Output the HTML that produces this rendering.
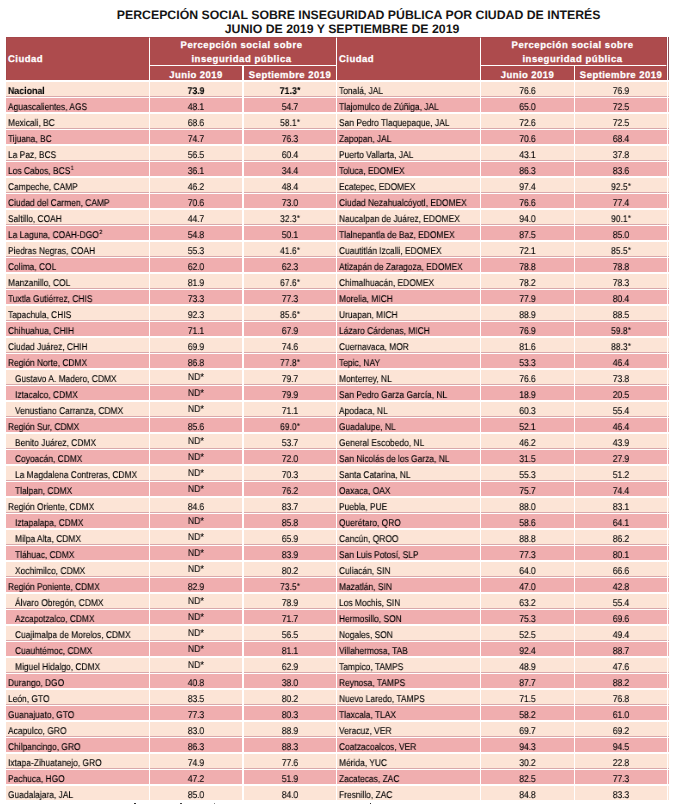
<!DOCTYPE html><html><head><meta charset="utf-8"><style>
*{margin:0;padding:0;box-sizing:border-box}
html,body{width:677px;height:804px;overflow:hidden;background:#fff}
body{position:relative;text-rendering:geometricPrecision;font-family:"Liberation Sans",sans-serif;color:#000}
.a{position:absolute}
.t{position:absolute;white-space:nowrap;font-weight:bold;font-size:12.3px;line-height:14px;color:#151515}
.h{position:absolute;background:#ad4b4d}
.ht{position:absolute;white-space:nowrap;color:#fff;font-weight:bold;font-size:9.5px;letter-spacing:0.45px;line-height:12px;-webkit-text-stroke:0.25px #fff}
.r{position:absolute;height:14px}
.l{background:#fce4d6}.p{background:#f0aeaf}.m{position:absolute;height:1px;background:#d9a9ab}
.x{position:absolute;white-space:nowrap;font-size:9.8px;line-height:14px;will-change:transform;-webkit-text-stroke:0.12px #000}
.xl{transform:scaleX(0.86);transform-origin:0 0}
.xc{transform:scaleX(0.86);transform-origin:50% 0;text-align:center}
sup{font-size:90%;vertical-align:0;position:relative;top:-0.08em;line-height:0;margin-left:0.3px}
.nd{font-size:100%;top:-0.05em}
sup.n{font-size:62%;top:-0.6em;margin-left:0.6px}
.xl.b,.xc.b{transform:scaleX(0.9)}
.b{font-weight:bold;-webkit-text-stroke:0.1px #000}

</style></head><body>
<div class="t" style="left:116.8px;top:7.638049999999998px">PERCEPCIÓN SOCIAL SOBRE INSEGURIDAD PÚBLICA POR CIUDAD DE INTERÉS</div>
<div class="t" style="left:224.7px;top:22.038049999999995px">JUNIO DE 2019 Y SEPTIEMBRE DE 2019</div>
<div class="h" style="left:6px;top:37px;width:143px;height:43px"></div>
<div class="h" style="left:150px;top:37px;width:186px;height:28px"></div>
<div class="h" style="left:150px;top:66px;width:92px;height:14px"></div>
<div class="h" style="left:244px;top:66px;width:92px;height:14px"></div>
<div class="h" style="left:337px;top:37px;width:143px;height:43px"></div>
<div class="h" style="left:481px;top:37px;width:186px;height:28px"></div>
<div class="h" style="left:481px;top:66px;width:93px;height:14px"></div>
<div class="h" style="left:575px;top:66px;width:92px;height:14px"></div>
<div class="a" style="left:668px;top:37px;width:1px;height:43px;background:#8c5159"></div>
<div class="a" style="left:6px;top:37px;width:661px;height:1px;background:#a04549;opacity:.6"></div>
<div class="a" style="left:6px;top:37px;width:1px;height:43px;background:#a04549;opacity:.6"></div>
<div class="a" style="left:666px;top:37px;width:1px;height:43px;background:#9a4349;opacity:.7"></div>
<div class="ht" style="left:8px;top:53.51px">Ciudad</div>
<div class="ht" style="left:148.5px;width:186.0px;top:39.61px;text-align:center;letter-spacing:0.55px">Percepción social sobre</div>
<div class="ht" style="left:148.5px;width:186.0px;top:54.11px;text-align:center;letter-spacing:0.55px">inseguridad pública</div>
<div class="ht" style="left:150px;width:92px;top:70.01px;text-align:center;letter-spacing:0.45px">Junio 2019</div>
<div class="ht" style="left:244px;width:92px;top:70.01px;text-align:center;letter-spacing:0.45px">Septiembre 2019</div>
<div class="ht" style="left:339px;top:53.51px">Ciudad</div>
<div class="ht" style="left:479.5px;width:186.0px;top:39.61px;text-align:center;letter-spacing:0.55px">Percepción social sobre</div>
<div class="ht" style="left:479.5px;width:186.0px;top:54.11px;text-align:center;letter-spacing:0.55px">inseguridad pública</div>
<div class="ht" style="left:481px;width:93px;top:70.01px;text-align:center;letter-spacing:0.45px">Junio 2019</div>
<div class="ht" style="left:575px;width:92px;top:70.01px;text-align:center;letter-spacing:0.45px">Septiembre 2019</div>
<div class="r l" style="left:6px;top:82px;width:143px"></div>
<div class="r l" style="left:150px;top:82px;width:92px"></div>
<div class="r l" style="left:244px;top:82px;width:92px"></div>
<div class="r l" style="left:337px;top:82px;width:143px"></div>
<div class="r l" style="left:481px;top:82px;width:93px"></div>
<div class="r l" style="left:575px;top:82px;width:92px"></div>
<div class="r l" style="left:668px;top:82px;width:1px"></div>
<div class="m" style="left:6px;top:96px;width:143px"></div>
<div class="m" style="left:150px;top:96px;width:92px"></div>
<div class="m" style="left:244px;top:96px;width:92px"></div>
<div class="m" style="left:337px;top:96px;width:143px"></div>
<div class="m" style="left:481px;top:96px;width:93px"></div>
<div class="m" style="left:575px;top:96px;width:92px"></div>
<div class="m" style="left:668px;top:96px;width:1px"></div>
<div class="x xl b" style="left:8px;top:84.80px">Nacional</div>
<div class="x xc b" style="left:150px;width:92px;top:84.80px">73.9</div>
<div class="x xc b" style="left:244px;width:92px;top:84.80px">71.3<sup>*</sup></div>
<div class="x xl" style="left:339px;top:84.80px">Tonalá, JAL</div>
<div class="x xc" style="left:481px;width:93px;top:84.80px">76.6</div>
<div class="x xc" style="left:575px;width:92px;top:84.80px">76.9</div>
<div class="r p" style="left:6px;top:98px;width:143px"></div>
<div class="r p" style="left:150px;top:98px;width:92px"></div>
<div class="r p" style="left:244px;top:98px;width:92px"></div>
<div class="r p" style="left:337px;top:98px;width:143px"></div>
<div class="r p" style="left:481px;top:98px;width:93px"></div>
<div class="r p" style="left:575px;top:98px;width:92px"></div>
<div class="r p" style="left:668px;top:98px;width:1px"></div>
<div class="x xl" style="left:8px;top:100.80px">Aguascalientes, AGS</div>
<div class="x xc" style="left:150px;width:92px;top:100.80px">48.1</div>
<div class="x xc" style="left:244px;width:92px;top:100.80px">54.7</div>
<div class="x xl" style="left:339px;top:100.80px">Tlajomulco de Zúñiga, JAL</div>
<div class="x xc" style="left:481px;width:93px;top:100.80px">65.0</div>
<div class="x xc" style="left:575px;width:92px;top:100.80px">72.5</div>
<div class="r l" style="left:6px;top:114px;width:143px"></div>
<div class="r l" style="left:150px;top:114px;width:92px"></div>
<div class="r l" style="left:244px;top:114px;width:92px"></div>
<div class="r l" style="left:337px;top:114px;width:143px"></div>
<div class="r l" style="left:481px;top:114px;width:93px"></div>
<div class="r l" style="left:575px;top:114px;width:92px"></div>
<div class="r l" style="left:668px;top:114px;width:1px"></div>
<div class="m" style="left:6px;top:128px;width:143px"></div>
<div class="m" style="left:150px;top:128px;width:92px"></div>
<div class="m" style="left:244px;top:128px;width:92px"></div>
<div class="m" style="left:337px;top:128px;width:143px"></div>
<div class="m" style="left:481px;top:128px;width:93px"></div>
<div class="m" style="left:575px;top:128px;width:92px"></div>
<div class="m" style="left:668px;top:128px;width:1px"></div>
<div class="x xl" style="left:8px;top:116.80px">Mexicali, BC</div>
<div class="x xc" style="left:150px;width:92px;top:116.80px">68.6</div>
<div class="x xc" style="left:244px;width:92px;top:116.80px">58.1<sup>*</sup></div>
<div class="x xl" style="left:339px;top:116.80px">San Pedro Tlaquepaque, JAL</div>
<div class="x xc" style="left:481px;width:93px;top:116.80px">72.6</div>
<div class="x xc" style="left:575px;width:92px;top:116.80px">72.5</div>
<div class="r p" style="left:6px;top:130px;width:143px"></div>
<div class="r p" style="left:150px;top:130px;width:92px"></div>
<div class="r p" style="left:244px;top:130px;width:92px"></div>
<div class="r p" style="left:337px;top:130px;width:143px"></div>
<div class="r p" style="left:481px;top:130px;width:93px"></div>
<div class="r p" style="left:575px;top:130px;width:92px"></div>
<div class="r p" style="left:668px;top:130px;width:1px"></div>
<div class="x xl" style="left:8px;top:132.80px">Tijuana, BC</div>
<div class="x xc" style="left:150px;width:92px;top:132.80px">74.7</div>
<div class="x xc" style="left:244px;width:92px;top:132.80px">76.3</div>
<div class="x xl" style="left:339px;top:132.80px">Zapopan, JAL</div>
<div class="x xc" style="left:481px;width:93px;top:132.80px">70.6</div>
<div class="x xc" style="left:575px;width:92px;top:132.80px">68.4</div>
<div class="r l" style="left:6px;top:146px;width:143px"></div>
<div class="r l" style="left:150px;top:146px;width:92px"></div>
<div class="r l" style="left:244px;top:146px;width:92px"></div>
<div class="r l" style="left:337px;top:146px;width:143px"></div>
<div class="r l" style="left:481px;top:146px;width:93px"></div>
<div class="r l" style="left:575px;top:146px;width:92px"></div>
<div class="r l" style="left:668px;top:146px;width:1px"></div>
<div class="m" style="left:6px;top:160px;width:143px"></div>
<div class="m" style="left:150px;top:160px;width:92px"></div>
<div class="m" style="left:244px;top:160px;width:92px"></div>
<div class="m" style="left:337px;top:160px;width:143px"></div>
<div class="m" style="left:481px;top:160px;width:93px"></div>
<div class="m" style="left:575px;top:160px;width:92px"></div>
<div class="m" style="left:668px;top:160px;width:1px"></div>
<div class="x xl" style="left:8px;top:148.80px">La Paz, BCS</div>
<div class="x xc" style="left:150px;width:92px;top:148.80px">56.5</div>
<div class="x xc" style="left:244px;width:92px;top:148.80px">60.4</div>
<div class="x xl" style="left:339px;top:148.80px">Puerto Vallarta, JAL</div>
<div class="x xc" style="left:481px;width:93px;top:148.80px">43.1</div>
<div class="x xc" style="left:575px;width:92px;top:148.80px">37.8</div>
<div class="r p" style="left:6px;top:162px;width:143px"></div>
<div class="r p" style="left:150px;top:162px;width:92px"></div>
<div class="r p" style="left:244px;top:162px;width:92px"></div>
<div class="r p" style="left:337px;top:162px;width:143px"></div>
<div class="r p" style="left:481px;top:162px;width:93px"></div>
<div class="r p" style="left:575px;top:162px;width:92px"></div>
<div class="r p" style="left:668px;top:162px;width:1px"></div>
<div class="x xl" style="left:8px;top:164.80px">Los Cabos, BCS<sup class="n">1</sup></div>
<div class="x xc" style="left:150px;width:92px;top:164.80px">36.1</div>
<div class="x xc" style="left:244px;width:92px;top:164.80px">34.4</div>
<div class="x xl" style="left:339px;top:164.80px">Toluca, EDOMEX</div>
<div class="x xc" style="left:481px;width:93px;top:164.80px">86.3</div>
<div class="x xc" style="left:575px;width:92px;top:164.80px">83.6</div>
<div class="r l" style="left:6px;top:178px;width:143px"></div>
<div class="r l" style="left:150px;top:178px;width:92px"></div>
<div class="r l" style="left:244px;top:178px;width:92px"></div>
<div class="r l" style="left:337px;top:178px;width:143px"></div>
<div class="r l" style="left:481px;top:178px;width:93px"></div>
<div class="r l" style="left:575px;top:178px;width:92px"></div>
<div class="r l" style="left:668px;top:178px;width:1px"></div>
<div class="m" style="left:6px;top:192px;width:143px"></div>
<div class="m" style="left:150px;top:192px;width:92px"></div>
<div class="m" style="left:244px;top:192px;width:92px"></div>
<div class="m" style="left:337px;top:192px;width:143px"></div>
<div class="m" style="left:481px;top:192px;width:93px"></div>
<div class="m" style="left:575px;top:192px;width:92px"></div>
<div class="m" style="left:668px;top:192px;width:1px"></div>
<div class="x xl" style="left:8px;top:180.80px">Campeche, CAMP</div>
<div class="x xc" style="left:150px;width:92px;top:180.80px">46.2</div>
<div class="x xc" style="left:244px;width:92px;top:180.80px">48.4</div>
<div class="x xl" style="left:339px;top:180.80px">Ecatepec, EDOMEX</div>
<div class="x xc" style="left:481px;width:93px;top:180.80px">97.4</div>
<div class="x xc" style="left:575px;width:92px;top:180.80px">92.5<sup>*</sup></div>
<div class="r p" style="left:6px;top:194px;width:143px"></div>
<div class="r p" style="left:150px;top:194px;width:92px"></div>
<div class="r p" style="left:244px;top:194px;width:92px"></div>
<div class="r p" style="left:337px;top:194px;width:143px"></div>
<div class="r p" style="left:481px;top:194px;width:93px"></div>
<div class="r p" style="left:575px;top:194px;width:92px"></div>
<div class="r p" style="left:668px;top:194px;width:1px"></div>
<div class="x xl" style="left:8px;top:196.80px">Ciudad del Carmen, CAMP</div>
<div class="x xc" style="left:150px;width:92px;top:196.80px">70.6</div>
<div class="x xc" style="left:244px;width:92px;top:196.80px">73.0</div>
<div class="x xl" style="left:339px;top:196.80px">Ciudad Nezahualcóyotl, EDOMEX</div>
<div class="x xc" style="left:481px;width:93px;top:196.80px">76.6</div>
<div class="x xc" style="left:575px;width:92px;top:196.80px">77.4</div>
<div class="r l" style="left:6px;top:210px;width:143px"></div>
<div class="r l" style="left:150px;top:210px;width:92px"></div>
<div class="r l" style="left:244px;top:210px;width:92px"></div>
<div class="r l" style="left:337px;top:210px;width:143px"></div>
<div class="r l" style="left:481px;top:210px;width:93px"></div>
<div class="r l" style="left:575px;top:210px;width:92px"></div>
<div class="r l" style="left:668px;top:210px;width:1px"></div>
<div class="m" style="left:6px;top:224px;width:143px"></div>
<div class="m" style="left:150px;top:224px;width:92px"></div>
<div class="m" style="left:244px;top:224px;width:92px"></div>
<div class="m" style="left:337px;top:224px;width:143px"></div>
<div class="m" style="left:481px;top:224px;width:93px"></div>
<div class="m" style="left:575px;top:224px;width:92px"></div>
<div class="m" style="left:668px;top:224px;width:1px"></div>
<div class="x xl" style="left:8px;top:212.80px">Saltillo, COAH</div>
<div class="x xc" style="left:150px;width:92px;top:212.80px">44.7</div>
<div class="x xc" style="left:244px;width:92px;top:212.80px">32.3<sup>*</sup></div>
<div class="x xl" style="left:339px;top:212.80px">Naucalpan de Juárez, EDOMEX</div>
<div class="x xc" style="left:481px;width:93px;top:212.80px">94.0</div>
<div class="x xc" style="left:575px;width:92px;top:212.80px">90.1<sup>*</sup></div>
<div class="r p" style="left:6px;top:226px;width:143px"></div>
<div class="r p" style="left:150px;top:226px;width:92px"></div>
<div class="r p" style="left:244px;top:226px;width:92px"></div>
<div class="r p" style="left:337px;top:226px;width:143px"></div>
<div class="r p" style="left:481px;top:226px;width:93px"></div>
<div class="r p" style="left:575px;top:226px;width:92px"></div>
<div class="r p" style="left:668px;top:226px;width:1px"></div>
<div class="x xl" style="left:8px;top:228.80px">La Laguna, COAH-DGO<sup class="n">2</sup></div>
<div class="x xc" style="left:150px;width:92px;top:228.80px">54.8</div>
<div class="x xc" style="left:244px;width:92px;top:228.80px">50.1</div>
<div class="x xl" style="left:339px;top:228.80px">Tlalnepantla de Baz, EDOMEX</div>
<div class="x xc" style="left:481px;width:93px;top:228.80px">87.5</div>
<div class="x xc" style="left:575px;width:92px;top:228.80px">85.0</div>
<div class="r l" style="left:6px;top:242px;width:143px"></div>
<div class="r l" style="left:150px;top:242px;width:92px"></div>
<div class="r l" style="left:244px;top:242px;width:92px"></div>
<div class="r l" style="left:337px;top:242px;width:143px"></div>
<div class="r l" style="left:481px;top:242px;width:93px"></div>
<div class="r l" style="left:575px;top:242px;width:92px"></div>
<div class="r l" style="left:668px;top:242px;width:1px"></div>
<div class="m" style="left:6px;top:256px;width:143px"></div>
<div class="m" style="left:150px;top:256px;width:92px"></div>
<div class="m" style="left:244px;top:256px;width:92px"></div>
<div class="m" style="left:337px;top:256px;width:143px"></div>
<div class="m" style="left:481px;top:256px;width:93px"></div>
<div class="m" style="left:575px;top:256px;width:92px"></div>
<div class="m" style="left:668px;top:256px;width:1px"></div>
<div class="x xl" style="left:8px;top:244.80px">Piedras Negras, COAH</div>
<div class="x xc" style="left:150px;width:92px;top:244.80px">55.3</div>
<div class="x xc" style="left:244px;width:92px;top:244.80px">41.6<sup>*</sup></div>
<div class="x xl" style="left:339px;top:244.80px">Cuautitlán Izcalli, EDOMEX</div>
<div class="x xc" style="left:481px;width:93px;top:244.80px">72.1</div>
<div class="x xc" style="left:575px;width:92px;top:244.80px">85.5<sup>*</sup></div>
<div class="r p" style="left:6px;top:258px;width:143px"></div>
<div class="r p" style="left:150px;top:258px;width:92px"></div>
<div class="r p" style="left:244px;top:258px;width:92px"></div>
<div class="r p" style="left:337px;top:258px;width:143px"></div>
<div class="r p" style="left:481px;top:258px;width:93px"></div>
<div class="r p" style="left:575px;top:258px;width:92px"></div>
<div class="r p" style="left:668px;top:258px;width:1px"></div>
<div class="x xl" style="left:8px;top:260.80px">Colima, COL</div>
<div class="x xc" style="left:150px;width:92px;top:260.80px">62.0</div>
<div class="x xc" style="left:244px;width:92px;top:260.80px">62.3</div>
<div class="x xl" style="left:339px;top:260.80px">Atizapán de Zaragoza, EDOMEX</div>
<div class="x xc" style="left:481px;width:93px;top:260.80px">78.8</div>
<div class="x xc" style="left:575px;width:92px;top:260.80px">78.8</div>
<div class="r l" style="left:6px;top:274px;width:143px"></div>
<div class="r l" style="left:150px;top:274px;width:92px"></div>
<div class="r l" style="left:244px;top:274px;width:92px"></div>
<div class="r l" style="left:337px;top:274px;width:143px"></div>
<div class="r l" style="left:481px;top:274px;width:93px"></div>
<div class="r l" style="left:575px;top:274px;width:92px"></div>
<div class="r l" style="left:668px;top:274px;width:1px"></div>
<div class="m" style="left:6px;top:288px;width:143px"></div>
<div class="m" style="left:150px;top:288px;width:92px"></div>
<div class="m" style="left:244px;top:288px;width:92px"></div>
<div class="m" style="left:337px;top:288px;width:143px"></div>
<div class="m" style="left:481px;top:288px;width:93px"></div>
<div class="m" style="left:575px;top:288px;width:92px"></div>
<div class="m" style="left:668px;top:288px;width:1px"></div>
<div class="x xl" style="left:8px;top:276.80px">Manzanillo, COL</div>
<div class="x xc" style="left:150px;width:92px;top:276.80px">81.9</div>
<div class="x xc" style="left:244px;width:92px;top:276.80px">67.6<sup>*</sup></div>
<div class="x xl" style="left:339px;top:276.80px">Chimalhuacán, EDOMEX</div>
<div class="x xc" style="left:481px;width:93px;top:276.80px">78.2</div>
<div class="x xc" style="left:575px;width:92px;top:276.80px">78.3</div>
<div class="r p" style="left:6px;top:290px;width:143px"></div>
<div class="r p" style="left:150px;top:290px;width:92px"></div>
<div class="r p" style="left:244px;top:290px;width:92px"></div>
<div class="r p" style="left:337px;top:290px;width:143px"></div>
<div class="r p" style="left:481px;top:290px;width:93px"></div>
<div class="r p" style="left:575px;top:290px;width:92px"></div>
<div class="r p" style="left:668px;top:290px;width:1px"></div>
<div class="x xl" style="left:8px;top:292.80px">Tuxtla Gutiérrez, CHIS</div>
<div class="x xc" style="left:150px;width:92px;top:292.80px">73.3</div>
<div class="x xc" style="left:244px;width:92px;top:292.80px">77.3</div>
<div class="x xl" style="left:339px;top:292.80px">Morelia, MICH</div>
<div class="x xc" style="left:481px;width:93px;top:292.80px">77.9</div>
<div class="x xc" style="left:575px;width:92px;top:292.80px">80.4</div>
<div class="r l" style="left:6px;top:306px;width:143px"></div>
<div class="r l" style="left:150px;top:306px;width:92px"></div>
<div class="r l" style="left:244px;top:306px;width:92px"></div>
<div class="r l" style="left:337px;top:306px;width:143px"></div>
<div class="r l" style="left:481px;top:306px;width:93px"></div>
<div class="r l" style="left:575px;top:306px;width:92px"></div>
<div class="r l" style="left:668px;top:306px;width:1px"></div>
<div class="m" style="left:6px;top:320px;width:143px"></div>
<div class="m" style="left:150px;top:320px;width:92px"></div>
<div class="m" style="left:244px;top:320px;width:92px"></div>
<div class="m" style="left:337px;top:320px;width:143px"></div>
<div class="m" style="left:481px;top:320px;width:93px"></div>
<div class="m" style="left:575px;top:320px;width:92px"></div>
<div class="m" style="left:668px;top:320px;width:1px"></div>
<div class="x xl" style="left:8px;top:308.80px">Tapachula, CHIS</div>
<div class="x xc" style="left:150px;width:92px;top:308.80px">92.3</div>
<div class="x xc" style="left:244px;width:92px;top:308.80px">85.6<sup>*</sup></div>
<div class="x xl" style="left:339px;top:308.80px">Uruapan, MICH</div>
<div class="x xc" style="left:481px;width:93px;top:308.80px">88.9</div>
<div class="x xc" style="left:575px;width:92px;top:308.80px">88.5</div>
<div class="r p" style="left:6px;top:322px;width:143px"></div>
<div class="r p" style="left:150px;top:322px;width:92px"></div>
<div class="r p" style="left:244px;top:322px;width:92px"></div>
<div class="r p" style="left:337px;top:322px;width:143px"></div>
<div class="r p" style="left:481px;top:322px;width:93px"></div>
<div class="r p" style="left:575px;top:322px;width:92px"></div>
<div class="r p" style="left:668px;top:322px;width:1px"></div>
<div class="x xl" style="left:8px;top:324.80px">Chihuahua, CHIH</div>
<div class="x xc" style="left:150px;width:92px;top:324.80px">71.1</div>
<div class="x xc" style="left:244px;width:92px;top:324.80px">67.9</div>
<div class="x xl" style="left:339px;top:324.80px">Lázaro Cárdenas, MICH</div>
<div class="x xc" style="left:481px;width:93px;top:324.80px">76.9</div>
<div class="x xc" style="left:575px;width:92px;top:324.80px">59.8<sup>*</sup></div>
<div class="r l" style="left:6px;top:338px;width:143px"></div>
<div class="r l" style="left:150px;top:338px;width:92px"></div>
<div class="r l" style="left:244px;top:338px;width:92px"></div>
<div class="r l" style="left:337px;top:338px;width:143px"></div>
<div class="r l" style="left:481px;top:338px;width:93px"></div>
<div class="r l" style="left:575px;top:338px;width:92px"></div>
<div class="r l" style="left:668px;top:338px;width:1px"></div>
<div class="m" style="left:6px;top:352px;width:143px"></div>
<div class="m" style="left:150px;top:352px;width:92px"></div>
<div class="m" style="left:244px;top:352px;width:92px"></div>
<div class="m" style="left:337px;top:352px;width:143px"></div>
<div class="m" style="left:481px;top:352px;width:93px"></div>
<div class="m" style="left:575px;top:352px;width:92px"></div>
<div class="m" style="left:668px;top:352px;width:1px"></div>
<div class="x xl" style="left:8px;top:340.80px">Ciudad Juárez, CHIH</div>
<div class="x xc" style="left:150px;width:92px;top:340.80px">69.9</div>
<div class="x xc" style="left:244px;width:92px;top:340.80px">74.6</div>
<div class="x xl" style="left:339px;top:340.80px">Cuernavaca, MOR</div>
<div class="x xc" style="left:481px;width:93px;top:340.80px">81.6</div>
<div class="x xc" style="left:575px;width:92px;top:340.80px">88.3<sup>*</sup></div>
<div class="r p" style="left:6px;top:354px;width:143px"></div>
<div class="r p" style="left:150px;top:354px;width:92px"></div>
<div class="r p" style="left:244px;top:354px;width:92px"></div>
<div class="r p" style="left:337px;top:354px;width:143px"></div>
<div class="r p" style="left:481px;top:354px;width:93px"></div>
<div class="r p" style="left:575px;top:354px;width:92px"></div>
<div class="r p" style="left:668px;top:354px;width:1px"></div>
<div class="x xl" style="left:8px;top:356.80px">Región Norte, CDMX</div>
<div class="x xc" style="left:150px;width:92px;top:356.80px">86.8</div>
<div class="x xc" style="left:244px;width:92px;top:356.80px">77.8<sup>*</sup></div>
<div class="x xl" style="left:339px;top:356.80px">Tepic, NAY</div>
<div class="x xc" style="left:481px;width:93px;top:356.80px">53.3</div>
<div class="x xc" style="left:575px;width:92px;top:356.80px">46.4</div>
<div class="r l" style="left:6px;top:370px;width:143px"></div>
<div class="r l" style="left:150px;top:370px;width:92px"></div>
<div class="r l" style="left:244px;top:370px;width:92px"></div>
<div class="r l" style="left:337px;top:370px;width:143px"></div>
<div class="r l" style="left:481px;top:370px;width:93px"></div>
<div class="r l" style="left:575px;top:370px;width:92px"></div>
<div class="r l" style="left:668px;top:370px;width:1px"></div>
<div class="m" style="left:6px;top:384px;width:143px"></div>
<div class="m" style="left:150px;top:384px;width:92px"></div>
<div class="m" style="left:244px;top:384px;width:92px"></div>
<div class="m" style="left:337px;top:384px;width:143px"></div>
<div class="m" style="left:481px;top:384px;width:93px"></div>
<div class="m" style="left:575px;top:384px;width:92px"></div>
<div class="m" style="left:668px;top:384px;width:1px"></div>
<div class="x xl" style="left:14.8px;top:372.80px">Gustavo A. Madero, CDMX</div>
<div class="x xc" style="left:149.5px;width:92px;top:371.30px">ND<sup class="nd">*</sup></div>
<div class="x xc" style="left:244px;width:92px;top:372.80px">79.7</div>
<div class="x xl" style="left:339px;top:372.80px">Monterrey, NL</div>
<div class="x xc" style="left:481px;width:93px;top:372.80px">76.6</div>
<div class="x xc" style="left:575px;width:92px;top:372.80px">73.8</div>
<div class="r p" style="left:6px;top:386px;width:143px"></div>
<div class="r p" style="left:150px;top:386px;width:92px"></div>
<div class="r p" style="left:244px;top:386px;width:92px"></div>
<div class="r p" style="left:337px;top:386px;width:143px"></div>
<div class="r p" style="left:481px;top:386px;width:93px"></div>
<div class="r p" style="left:575px;top:386px;width:92px"></div>
<div class="r p" style="left:668px;top:386px;width:1px"></div>
<div class="x xl" style="left:14.8px;top:388.80px">Iztacalco, CDMX</div>
<div class="x xc" style="left:149.5px;width:92px;top:387.30px">ND<sup class="nd">*</sup></div>
<div class="x xc" style="left:244px;width:92px;top:388.80px">79.9</div>
<div class="x xl" style="left:339px;top:388.80px">San Pedro Garza García, NL</div>
<div class="x xc" style="left:481px;width:93px;top:388.80px">18.9</div>
<div class="x xc" style="left:575px;width:92px;top:388.80px">20.5</div>
<div class="r l" style="left:6px;top:402px;width:143px"></div>
<div class="r l" style="left:150px;top:402px;width:92px"></div>
<div class="r l" style="left:244px;top:402px;width:92px"></div>
<div class="r l" style="left:337px;top:402px;width:143px"></div>
<div class="r l" style="left:481px;top:402px;width:93px"></div>
<div class="r l" style="left:575px;top:402px;width:92px"></div>
<div class="r l" style="left:668px;top:402px;width:1px"></div>
<div class="m" style="left:6px;top:416px;width:143px"></div>
<div class="m" style="left:150px;top:416px;width:92px"></div>
<div class="m" style="left:244px;top:416px;width:92px"></div>
<div class="m" style="left:337px;top:416px;width:143px"></div>
<div class="m" style="left:481px;top:416px;width:93px"></div>
<div class="m" style="left:575px;top:416px;width:92px"></div>
<div class="m" style="left:668px;top:416px;width:1px"></div>
<div class="x xl" style="left:14.8px;top:404.80px">Venustiano Carranza, CDMX</div>
<div class="x xc" style="left:149.5px;width:92px;top:403.30px">ND<sup class="nd">*</sup></div>
<div class="x xc" style="left:244px;width:92px;top:404.80px">71.1</div>
<div class="x xl" style="left:339px;top:404.80px">Apodaca, NL</div>
<div class="x xc" style="left:481px;width:93px;top:404.80px">60.3</div>
<div class="x xc" style="left:575px;width:92px;top:404.80px">55.4</div>
<div class="r p" style="left:6px;top:418px;width:143px"></div>
<div class="r p" style="left:150px;top:418px;width:92px"></div>
<div class="r p" style="left:244px;top:418px;width:92px"></div>
<div class="r p" style="left:337px;top:418px;width:143px"></div>
<div class="r p" style="left:481px;top:418px;width:93px"></div>
<div class="r p" style="left:575px;top:418px;width:92px"></div>
<div class="r p" style="left:668px;top:418px;width:1px"></div>
<div class="x xl" style="left:8px;top:420.80px">Región Sur, CDMX</div>
<div class="x xc" style="left:150px;width:92px;top:420.80px">85.6</div>
<div class="x xc" style="left:244px;width:92px;top:420.80px">69.0<sup>*</sup></div>
<div class="x xl" style="left:339px;top:420.80px">Guadalupe, NL</div>
<div class="x xc" style="left:481px;width:93px;top:420.80px">52.1</div>
<div class="x xc" style="left:575px;width:92px;top:420.80px">46.4</div>
<div class="r l" style="left:6px;top:434px;width:143px"></div>
<div class="r l" style="left:150px;top:434px;width:92px"></div>
<div class="r l" style="left:244px;top:434px;width:92px"></div>
<div class="r l" style="left:337px;top:434px;width:143px"></div>
<div class="r l" style="left:481px;top:434px;width:93px"></div>
<div class="r l" style="left:575px;top:434px;width:92px"></div>
<div class="r l" style="left:668px;top:434px;width:1px"></div>
<div class="m" style="left:6px;top:448px;width:143px"></div>
<div class="m" style="left:150px;top:448px;width:92px"></div>
<div class="m" style="left:244px;top:448px;width:92px"></div>
<div class="m" style="left:337px;top:448px;width:143px"></div>
<div class="m" style="left:481px;top:448px;width:93px"></div>
<div class="m" style="left:575px;top:448px;width:92px"></div>
<div class="m" style="left:668px;top:448px;width:1px"></div>
<div class="x xl" style="left:14.8px;top:436.80px">Benito Juárez, CDMX</div>
<div class="x xc" style="left:149.5px;width:92px;top:435.30px">ND<sup class="nd">*</sup></div>
<div class="x xc" style="left:244px;width:92px;top:436.80px">53.7</div>
<div class="x xl" style="left:339px;top:436.80px">General Escobedo, NL</div>
<div class="x xc" style="left:481px;width:93px;top:436.80px">46.2</div>
<div class="x xc" style="left:575px;width:92px;top:436.80px">43.9</div>
<div class="r p" style="left:6px;top:450px;width:143px"></div>
<div class="r p" style="left:150px;top:450px;width:92px"></div>
<div class="r p" style="left:244px;top:450px;width:92px"></div>
<div class="r p" style="left:337px;top:450px;width:143px"></div>
<div class="r p" style="left:481px;top:450px;width:93px"></div>
<div class="r p" style="left:575px;top:450px;width:92px"></div>
<div class="r p" style="left:668px;top:450px;width:1px"></div>
<div class="x xl" style="left:14.8px;top:452.80px">Coyoacán, CDMX</div>
<div class="x xc" style="left:149.5px;width:92px;top:451.30px">ND<sup class="nd">*</sup></div>
<div class="x xc" style="left:244px;width:92px;top:452.80px">72.0</div>
<div class="x xl" style="left:339px;top:452.80px">San Nicolás de los Garza, NL</div>
<div class="x xc" style="left:481px;width:93px;top:452.80px">31.5</div>
<div class="x xc" style="left:575px;width:92px;top:452.80px">27.9</div>
<div class="r l" style="left:6px;top:466px;width:143px"></div>
<div class="r l" style="left:150px;top:466px;width:92px"></div>
<div class="r l" style="left:244px;top:466px;width:92px"></div>
<div class="r l" style="left:337px;top:466px;width:143px"></div>
<div class="r l" style="left:481px;top:466px;width:93px"></div>
<div class="r l" style="left:575px;top:466px;width:92px"></div>
<div class="r l" style="left:668px;top:466px;width:1px"></div>
<div class="m" style="left:6px;top:480px;width:143px"></div>
<div class="m" style="left:150px;top:480px;width:92px"></div>
<div class="m" style="left:244px;top:480px;width:92px"></div>
<div class="m" style="left:337px;top:480px;width:143px"></div>
<div class="m" style="left:481px;top:480px;width:93px"></div>
<div class="m" style="left:575px;top:480px;width:92px"></div>
<div class="m" style="left:668px;top:480px;width:1px"></div>
<div class="x xl" style="left:14.8px;top:468.80px">La Magdalena Contreras, CDMX</div>
<div class="x xc" style="left:149.5px;width:92px;top:467.30px">ND<sup class="nd">*</sup></div>
<div class="x xc" style="left:244px;width:92px;top:468.80px">70.3</div>
<div class="x xl" style="left:339px;top:468.80px">Santa Catarina, NL</div>
<div class="x xc" style="left:481px;width:93px;top:468.80px">55.3</div>
<div class="x xc" style="left:575px;width:92px;top:468.80px">51.2</div>
<div class="r p" style="left:6px;top:482px;width:143px"></div>
<div class="r p" style="left:150px;top:482px;width:92px"></div>
<div class="r p" style="left:244px;top:482px;width:92px"></div>
<div class="r p" style="left:337px;top:482px;width:143px"></div>
<div class="r p" style="left:481px;top:482px;width:93px"></div>
<div class="r p" style="left:575px;top:482px;width:92px"></div>
<div class="r p" style="left:668px;top:482px;width:1px"></div>
<div class="x xl" style="left:14.8px;top:484.80px">Tlalpan, CDMX</div>
<div class="x xc" style="left:149.5px;width:92px;top:483.30px">ND<sup class="nd">*</sup></div>
<div class="x xc" style="left:244px;width:92px;top:484.80px">76.2</div>
<div class="x xl" style="left:339px;top:484.80px">Oaxaca, OAX</div>
<div class="x xc" style="left:481px;width:93px;top:484.80px">75.7</div>
<div class="x xc" style="left:575px;width:92px;top:484.80px">74.4</div>
<div class="r l" style="left:6px;top:498px;width:143px"></div>
<div class="r l" style="left:150px;top:498px;width:92px"></div>
<div class="r l" style="left:244px;top:498px;width:92px"></div>
<div class="r l" style="left:337px;top:498px;width:143px"></div>
<div class="r l" style="left:481px;top:498px;width:93px"></div>
<div class="r l" style="left:575px;top:498px;width:92px"></div>
<div class="r l" style="left:668px;top:498px;width:1px"></div>
<div class="m" style="left:6px;top:512px;width:143px"></div>
<div class="m" style="left:150px;top:512px;width:92px"></div>
<div class="m" style="left:244px;top:512px;width:92px"></div>
<div class="m" style="left:337px;top:512px;width:143px"></div>
<div class="m" style="left:481px;top:512px;width:93px"></div>
<div class="m" style="left:575px;top:512px;width:92px"></div>
<div class="m" style="left:668px;top:512px;width:1px"></div>
<div class="x xl" style="left:8px;top:500.80px">Región Oriente, CDMX</div>
<div class="x xc" style="left:150px;width:92px;top:500.80px">84.6</div>
<div class="x xc" style="left:244px;width:92px;top:500.80px">83.7</div>
<div class="x xl" style="left:339px;top:500.80px">Puebla, PUE</div>
<div class="x xc" style="left:481px;width:93px;top:500.80px">88.0</div>
<div class="x xc" style="left:575px;width:92px;top:500.80px">83.1</div>
<div class="r p" style="left:6px;top:514px;width:143px"></div>
<div class="r p" style="left:150px;top:514px;width:92px"></div>
<div class="r p" style="left:244px;top:514px;width:92px"></div>
<div class="r p" style="left:337px;top:514px;width:143px"></div>
<div class="r p" style="left:481px;top:514px;width:93px"></div>
<div class="r p" style="left:575px;top:514px;width:92px"></div>
<div class="r p" style="left:668px;top:514px;width:1px"></div>
<div class="x xl" style="left:14.8px;top:516.80px">Iztapalapa, CDMX</div>
<div class="x xc" style="left:149.5px;width:92px;top:515.30px">ND<sup class="nd">*</sup></div>
<div class="x xc" style="left:244px;width:92px;top:516.80px">85.8</div>
<div class="x xl" style="left:339px;top:516.80px">Querétaro, QRO</div>
<div class="x xc" style="left:481px;width:93px;top:516.80px">58.6</div>
<div class="x xc" style="left:575px;width:92px;top:516.80px">64.1</div>
<div class="r l" style="left:6px;top:530px;width:143px"></div>
<div class="r l" style="left:150px;top:530px;width:92px"></div>
<div class="r l" style="left:244px;top:530px;width:92px"></div>
<div class="r l" style="left:337px;top:530px;width:143px"></div>
<div class="r l" style="left:481px;top:530px;width:93px"></div>
<div class="r l" style="left:575px;top:530px;width:92px"></div>
<div class="r l" style="left:668px;top:530px;width:1px"></div>
<div class="m" style="left:6px;top:544px;width:143px"></div>
<div class="m" style="left:150px;top:544px;width:92px"></div>
<div class="m" style="left:244px;top:544px;width:92px"></div>
<div class="m" style="left:337px;top:544px;width:143px"></div>
<div class="m" style="left:481px;top:544px;width:93px"></div>
<div class="m" style="left:575px;top:544px;width:92px"></div>
<div class="m" style="left:668px;top:544px;width:1px"></div>
<div class="x xl" style="left:14.8px;top:532.80px">Milpa Alta, CDMX</div>
<div class="x xc" style="left:149.5px;width:92px;top:531.30px">ND<sup class="nd">*</sup></div>
<div class="x xc" style="left:244px;width:92px;top:532.80px">65.9</div>
<div class="x xl" style="left:339px;top:532.80px">Cancún, QROO</div>
<div class="x xc" style="left:481px;width:93px;top:532.80px">88.8</div>
<div class="x xc" style="left:575px;width:92px;top:532.80px">86.2</div>
<div class="r p" style="left:6px;top:546px;width:143px"></div>
<div class="r p" style="left:150px;top:546px;width:92px"></div>
<div class="r p" style="left:244px;top:546px;width:92px"></div>
<div class="r p" style="left:337px;top:546px;width:143px"></div>
<div class="r p" style="left:481px;top:546px;width:93px"></div>
<div class="r p" style="left:575px;top:546px;width:92px"></div>
<div class="r p" style="left:668px;top:546px;width:1px"></div>
<div class="x xl" style="left:14.8px;top:548.80px">Tláhuac, CDMX</div>
<div class="x xc" style="left:149.5px;width:92px;top:547.30px">ND<sup class="nd">*</sup></div>
<div class="x xc" style="left:244px;width:92px;top:548.80px">83.9</div>
<div class="x xl" style="left:339px;top:548.80px">San Luis Potosí, SLP</div>
<div class="x xc" style="left:481px;width:93px;top:548.80px">77.3</div>
<div class="x xc" style="left:575px;width:92px;top:548.80px">80.1</div>
<div class="r l" style="left:6px;top:562px;width:143px"></div>
<div class="r l" style="left:150px;top:562px;width:92px"></div>
<div class="r l" style="left:244px;top:562px;width:92px"></div>
<div class="r l" style="left:337px;top:562px;width:143px"></div>
<div class="r l" style="left:481px;top:562px;width:93px"></div>
<div class="r l" style="left:575px;top:562px;width:92px"></div>
<div class="r l" style="left:668px;top:562px;width:1px"></div>
<div class="m" style="left:6px;top:576px;width:143px"></div>
<div class="m" style="left:150px;top:576px;width:92px"></div>
<div class="m" style="left:244px;top:576px;width:92px"></div>
<div class="m" style="left:337px;top:576px;width:143px"></div>
<div class="m" style="left:481px;top:576px;width:93px"></div>
<div class="m" style="left:575px;top:576px;width:92px"></div>
<div class="m" style="left:668px;top:576px;width:1px"></div>
<div class="x xl" style="left:14.8px;top:564.80px">Xochimilco, CDMX</div>
<div class="x xc" style="left:149.5px;width:92px;top:563.30px">ND<sup class="nd">*</sup></div>
<div class="x xc" style="left:244px;width:92px;top:564.80px">80.2</div>
<div class="x xl" style="left:339px;top:564.80px">Culiacán, SIN</div>
<div class="x xc" style="left:481px;width:93px;top:564.80px">64.0</div>
<div class="x xc" style="left:575px;width:92px;top:564.80px">66.6</div>
<div class="r p" style="left:6px;top:578px;width:143px"></div>
<div class="r p" style="left:150px;top:578px;width:92px"></div>
<div class="r p" style="left:244px;top:578px;width:92px"></div>
<div class="r p" style="left:337px;top:578px;width:143px"></div>
<div class="r p" style="left:481px;top:578px;width:93px"></div>
<div class="r p" style="left:575px;top:578px;width:92px"></div>
<div class="r p" style="left:668px;top:578px;width:1px"></div>
<div class="x xl" style="left:8px;top:580.80px">Región Poniente, CDMX</div>
<div class="x xc" style="left:150px;width:92px;top:580.80px">82.9</div>
<div class="x xc" style="left:244px;width:92px;top:580.80px">73.5<sup>*</sup></div>
<div class="x xl" style="left:339px;top:580.80px">Mazatlán, SIN</div>
<div class="x xc" style="left:481px;width:93px;top:580.80px">47.0</div>
<div class="x xc" style="left:575px;width:92px;top:580.80px">42.8</div>
<div class="r l" style="left:6px;top:594px;width:143px"></div>
<div class="r l" style="left:150px;top:594px;width:92px"></div>
<div class="r l" style="left:244px;top:594px;width:92px"></div>
<div class="r l" style="left:337px;top:594px;width:143px"></div>
<div class="r l" style="left:481px;top:594px;width:93px"></div>
<div class="r l" style="left:575px;top:594px;width:92px"></div>
<div class="r l" style="left:668px;top:594px;width:1px"></div>
<div class="m" style="left:6px;top:608px;width:143px"></div>
<div class="m" style="left:150px;top:608px;width:92px"></div>
<div class="m" style="left:244px;top:608px;width:92px"></div>
<div class="m" style="left:337px;top:608px;width:143px"></div>
<div class="m" style="left:481px;top:608px;width:93px"></div>
<div class="m" style="left:575px;top:608px;width:92px"></div>
<div class="m" style="left:668px;top:608px;width:1px"></div>
<div class="x xl" style="left:14.8px;top:596.80px">Álvaro Obregón, CDMX</div>
<div class="x xc" style="left:149.5px;width:92px;top:595.30px">ND<sup class="nd">*</sup></div>
<div class="x xc" style="left:244px;width:92px;top:596.80px">78.9</div>
<div class="x xl" style="left:339px;top:596.80px">Los Mochis, SIN</div>
<div class="x xc" style="left:481px;width:93px;top:596.80px">63.2</div>
<div class="x xc" style="left:575px;width:92px;top:596.80px">55.4</div>
<div class="r p" style="left:6px;top:610px;width:143px"></div>
<div class="r p" style="left:150px;top:610px;width:92px"></div>
<div class="r p" style="left:244px;top:610px;width:92px"></div>
<div class="r p" style="left:337px;top:610px;width:143px"></div>
<div class="r p" style="left:481px;top:610px;width:93px"></div>
<div class="r p" style="left:575px;top:610px;width:92px"></div>
<div class="r p" style="left:668px;top:610px;width:1px"></div>
<div class="x xl" style="left:14.8px;top:612.80px">Azcapotzalco, CDMX</div>
<div class="x xc" style="left:149.5px;width:92px;top:611.30px">ND<sup class="nd">*</sup></div>
<div class="x xc" style="left:244px;width:92px;top:612.80px">71.7</div>
<div class="x xl" style="left:339px;top:612.80px">Hermosillo, SON</div>
<div class="x xc" style="left:481px;width:93px;top:612.80px">75.3</div>
<div class="x xc" style="left:575px;width:92px;top:612.80px">69.6</div>
<div class="r l" style="left:6px;top:626px;width:143px"></div>
<div class="r l" style="left:150px;top:626px;width:92px"></div>
<div class="r l" style="left:244px;top:626px;width:92px"></div>
<div class="r l" style="left:337px;top:626px;width:143px"></div>
<div class="r l" style="left:481px;top:626px;width:93px"></div>
<div class="r l" style="left:575px;top:626px;width:92px"></div>
<div class="r l" style="left:668px;top:626px;width:1px"></div>
<div class="m" style="left:6px;top:640px;width:143px"></div>
<div class="m" style="left:150px;top:640px;width:92px"></div>
<div class="m" style="left:244px;top:640px;width:92px"></div>
<div class="m" style="left:337px;top:640px;width:143px"></div>
<div class="m" style="left:481px;top:640px;width:93px"></div>
<div class="m" style="left:575px;top:640px;width:92px"></div>
<div class="m" style="left:668px;top:640px;width:1px"></div>
<div class="x xl" style="left:14.8px;top:628.80px">Cuajimalpa de Morelos, CDMX</div>
<div class="x xc" style="left:149.5px;width:92px;top:627.30px">ND<sup class="nd">*</sup></div>
<div class="x xc" style="left:244px;width:92px;top:628.80px">56.5</div>
<div class="x xl" style="left:339px;top:628.80px">Nogales, SON</div>
<div class="x xc" style="left:481px;width:93px;top:628.80px">52.5</div>
<div class="x xc" style="left:575px;width:92px;top:628.80px">49.4</div>
<div class="r p" style="left:6px;top:642px;width:143px"></div>
<div class="r p" style="left:150px;top:642px;width:92px"></div>
<div class="r p" style="left:244px;top:642px;width:92px"></div>
<div class="r p" style="left:337px;top:642px;width:143px"></div>
<div class="r p" style="left:481px;top:642px;width:93px"></div>
<div class="r p" style="left:575px;top:642px;width:92px"></div>
<div class="r p" style="left:668px;top:642px;width:1px"></div>
<div class="x xl" style="left:14.8px;top:644.80px">Cuauhtémoc, CDMX</div>
<div class="x xc" style="left:149.5px;width:92px;top:643.30px">ND<sup class="nd">*</sup></div>
<div class="x xc" style="left:244px;width:92px;top:644.80px">81.1</div>
<div class="x xl" style="left:339px;top:644.80px">Villahermosa, TAB</div>
<div class="x xc" style="left:481px;width:93px;top:644.80px">92.4</div>
<div class="x xc" style="left:575px;width:92px;top:644.80px">88.7</div>
<div class="r l" style="left:6px;top:658px;width:143px"></div>
<div class="r l" style="left:150px;top:658px;width:92px"></div>
<div class="r l" style="left:244px;top:658px;width:92px"></div>
<div class="r l" style="left:337px;top:658px;width:143px"></div>
<div class="r l" style="left:481px;top:658px;width:93px"></div>
<div class="r l" style="left:575px;top:658px;width:92px"></div>
<div class="r l" style="left:668px;top:658px;width:1px"></div>
<div class="m" style="left:6px;top:672px;width:143px"></div>
<div class="m" style="left:150px;top:672px;width:92px"></div>
<div class="m" style="left:244px;top:672px;width:92px"></div>
<div class="m" style="left:337px;top:672px;width:143px"></div>
<div class="m" style="left:481px;top:672px;width:93px"></div>
<div class="m" style="left:575px;top:672px;width:92px"></div>
<div class="m" style="left:668px;top:672px;width:1px"></div>
<div class="x xl" style="left:14.8px;top:660.80px">Miguel Hidalgo, CDMX</div>
<div class="x xc" style="left:149.5px;width:92px;top:659.30px">ND<sup class="nd">*</sup></div>
<div class="x xc" style="left:244px;width:92px;top:660.80px">62.9</div>
<div class="x xl" style="left:339px;top:660.80px">Tampico, TAMPS</div>
<div class="x xc" style="left:481px;width:93px;top:660.80px">48.9</div>
<div class="x xc" style="left:575px;width:92px;top:660.80px">47.6</div>
<div class="r p" style="left:6px;top:674px;width:143px"></div>
<div class="r p" style="left:150px;top:674px;width:92px"></div>
<div class="r p" style="left:244px;top:674px;width:92px"></div>
<div class="r p" style="left:337px;top:674px;width:143px"></div>
<div class="r p" style="left:481px;top:674px;width:93px"></div>
<div class="r p" style="left:575px;top:674px;width:92px"></div>
<div class="r p" style="left:668px;top:674px;width:1px"></div>
<div class="x xl" style="left:8px;top:676.80px">Durango, DGO</div>
<div class="x xc" style="left:150px;width:92px;top:676.80px">40.8</div>
<div class="x xc" style="left:244px;width:92px;top:676.80px">38.0</div>
<div class="x xl" style="left:339px;top:676.80px">Reynosa, TAMPS</div>
<div class="x xc" style="left:481px;width:93px;top:676.80px">87.7</div>
<div class="x xc" style="left:575px;width:92px;top:676.80px">88.2</div>
<div class="r l" style="left:6px;top:690px;width:143px"></div>
<div class="r l" style="left:150px;top:690px;width:92px"></div>
<div class="r l" style="left:244px;top:690px;width:92px"></div>
<div class="r l" style="left:337px;top:690px;width:143px"></div>
<div class="r l" style="left:481px;top:690px;width:93px"></div>
<div class="r l" style="left:575px;top:690px;width:92px"></div>
<div class="r l" style="left:668px;top:690px;width:1px"></div>
<div class="m" style="left:6px;top:704px;width:143px"></div>
<div class="m" style="left:150px;top:704px;width:92px"></div>
<div class="m" style="left:244px;top:704px;width:92px"></div>
<div class="m" style="left:337px;top:704px;width:143px"></div>
<div class="m" style="left:481px;top:704px;width:93px"></div>
<div class="m" style="left:575px;top:704px;width:92px"></div>
<div class="m" style="left:668px;top:704px;width:1px"></div>
<div class="x xl" style="left:8px;top:692.80px">León, GTO</div>
<div class="x xc" style="left:150px;width:92px;top:692.80px">83.5</div>
<div class="x xc" style="left:244px;width:92px;top:692.80px">80.2</div>
<div class="x xl" style="left:339px;top:692.80px">Nuevo Laredo, TAMPS</div>
<div class="x xc" style="left:481px;width:93px;top:692.80px">71.5</div>
<div class="x xc" style="left:575px;width:92px;top:692.80px">76.8</div>
<div class="r p" style="left:6px;top:706px;width:143px"></div>
<div class="r p" style="left:150px;top:706px;width:92px"></div>
<div class="r p" style="left:244px;top:706px;width:92px"></div>
<div class="r p" style="left:337px;top:706px;width:143px"></div>
<div class="r p" style="left:481px;top:706px;width:93px"></div>
<div class="r p" style="left:575px;top:706px;width:92px"></div>
<div class="r p" style="left:668px;top:706px;width:1px"></div>
<div class="x xl" style="left:8px;top:708.80px">Guanajuato, GTO</div>
<div class="x xc" style="left:150px;width:92px;top:708.80px">77.3</div>
<div class="x xc" style="left:244px;width:92px;top:708.80px">80.3</div>
<div class="x xl" style="left:339px;top:708.80px">Tlaxcala, TLAX</div>
<div class="x xc" style="left:481px;width:93px;top:708.80px">58.2</div>
<div class="x xc" style="left:575px;width:92px;top:708.80px">61.0</div>
<div class="r l" style="left:6px;top:722px;width:143px"></div>
<div class="r l" style="left:150px;top:722px;width:92px"></div>
<div class="r l" style="left:244px;top:722px;width:92px"></div>
<div class="r l" style="left:337px;top:722px;width:143px"></div>
<div class="r l" style="left:481px;top:722px;width:93px"></div>
<div class="r l" style="left:575px;top:722px;width:92px"></div>
<div class="r l" style="left:668px;top:722px;width:1px"></div>
<div class="m" style="left:6px;top:736px;width:143px"></div>
<div class="m" style="left:150px;top:736px;width:92px"></div>
<div class="m" style="left:244px;top:736px;width:92px"></div>
<div class="m" style="left:337px;top:736px;width:143px"></div>
<div class="m" style="left:481px;top:736px;width:93px"></div>
<div class="m" style="left:575px;top:736px;width:92px"></div>
<div class="m" style="left:668px;top:736px;width:1px"></div>
<div class="x xl" style="left:8px;top:724.80px">Acapulco, GRO</div>
<div class="x xc" style="left:150px;width:92px;top:724.80px">83.0</div>
<div class="x xc" style="left:244px;width:92px;top:724.80px">88.9</div>
<div class="x xl" style="left:339px;top:724.80px">Veracuz, VER</div>
<div class="x xc" style="left:481px;width:93px;top:724.80px">69.7</div>
<div class="x xc" style="left:575px;width:92px;top:724.80px">69.2</div>
<div class="r p" style="left:6px;top:738px;width:143px"></div>
<div class="r p" style="left:150px;top:738px;width:92px"></div>
<div class="r p" style="left:244px;top:738px;width:92px"></div>
<div class="r p" style="left:337px;top:738px;width:143px"></div>
<div class="r p" style="left:481px;top:738px;width:93px"></div>
<div class="r p" style="left:575px;top:738px;width:92px"></div>
<div class="r p" style="left:668px;top:738px;width:1px"></div>
<div class="x xl" style="left:8px;top:740.80px">Chilpancingo, GRO</div>
<div class="x xc" style="left:150px;width:92px;top:740.80px">86.3</div>
<div class="x xc" style="left:244px;width:92px;top:740.80px">88.3</div>
<div class="x xl" style="left:339px;top:740.80px">Coatzacoalcos, VER</div>
<div class="x xc" style="left:481px;width:93px;top:740.80px">94.3</div>
<div class="x xc" style="left:575px;width:92px;top:740.80px">94.5</div>
<div class="r l" style="left:6px;top:754px;width:143px"></div>
<div class="r l" style="left:150px;top:754px;width:92px"></div>
<div class="r l" style="left:244px;top:754px;width:92px"></div>
<div class="r l" style="left:337px;top:754px;width:143px"></div>
<div class="r l" style="left:481px;top:754px;width:93px"></div>
<div class="r l" style="left:575px;top:754px;width:92px"></div>
<div class="r l" style="left:668px;top:754px;width:1px"></div>
<div class="m" style="left:6px;top:768px;width:143px"></div>
<div class="m" style="left:150px;top:768px;width:92px"></div>
<div class="m" style="left:244px;top:768px;width:92px"></div>
<div class="m" style="left:337px;top:768px;width:143px"></div>
<div class="m" style="left:481px;top:768px;width:93px"></div>
<div class="m" style="left:575px;top:768px;width:92px"></div>
<div class="m" style="left:668px;top:768px;width:1px"></div>
<div class="x xl" style="left:8px;top:756.80px">Ixtapa-Zihuatanejo, GRO</div>
<div class="x xc" style="left:150px;width:92px;top:756.80px">74.9</div>
<div class="x xc" style="left:244px;width:92px;top:756.80px">77.6</div>
<div class="x xl" style="left:339px;top:756.80px">Mérida, YUC</div>
<div class="x xc" style="left:481px;width:93px;top:756.80px">30.2</div>
<div class="x xc" style="left:575px;width:92px;top:756.80px">22.8</div>
<div class="r p" style="left:6px;top:770px;width:143px"></div>
<div class="r p" style="left:150px;top:770px;width:92px"></div>
<div class="r p" style="left:244px;top:770px;width:92px"></div>
<div class="r p" style="left:337px;top:770px;width:143px"></div>
<div class="r p" style="left:481px;top:770px;width:93px"></div>
<div class="r p" style="left:575px;top:770px;width:92px"></div>
<div class="r p" style="left:668px;top:770px;width:1px"></div>
<div class="x xl" style="left:8px;top:772.80px">Pachuca, HGO</div>
<div class="x xc" style="left:150px;width:92px;top:772.80px">47.2</div>
<div class="x xc" style="left:244px;width:92px;top:772.80px">51.9</div>
<div class="x xl" style="left:339px;top:772.80px">Zacatecas, ZAC</div>
<div class="x xc" style="left:481px;width:93px;top:772.80px">82.5</div>
<div class="x xc" style="left:575px;width:92px;top:772.80px">77.3</div>
<div class="r l" style="left:6px;top:786px;width:143px"></div>
<div class="r l" style="left:150px;top:786px;width:92px"></div>
<div class="r l" style="left:244px;top:786px;width:92px"></div>
<div class="r l" style="left:337px;top:786px;width:143px"></div>
<div class="r l" style="left:481px;top:786px;width:93px"></div>
<div class="r l" style="left:575px;top:786px;width:92px"></div>
<div class="r l" style="left:668px;top:786px;width:1px"></div>
<div class="x xl" style="left:8px;top:788.80px">Guadalajara, JAL</div>
<div class="x xc" style="left:150px;width:92px;top:788.80px">85.0</div>
<div class="x xc" style="left:244px;width:92px;top:788.80px">84.0</div>
<div class="x xl" style="left:339px;top:788.80px">Fresnillo, ZAC</div>
<div class="x xc" style="left:481px;width:93px;top:788.80px">84.8</div>
<div class="x xc" style="left:575px;width:92px;top:788.80px">83.3</div>
<div class="a" style="left:134px;top:803px;width:2px;height:1px;background:#333"></div>
<div class="a" style="left:180px;top:803px;width:1.5px;height:1px;background:#444"></div>
<div class="a" style="left:213.5px;top:803px;width:1.5px;height:1px;background:#888"></div>
<div class="a" style="left:369.5px;top:803px;width:1.5px;height:1px;background:#333"></div>
</body></html>
